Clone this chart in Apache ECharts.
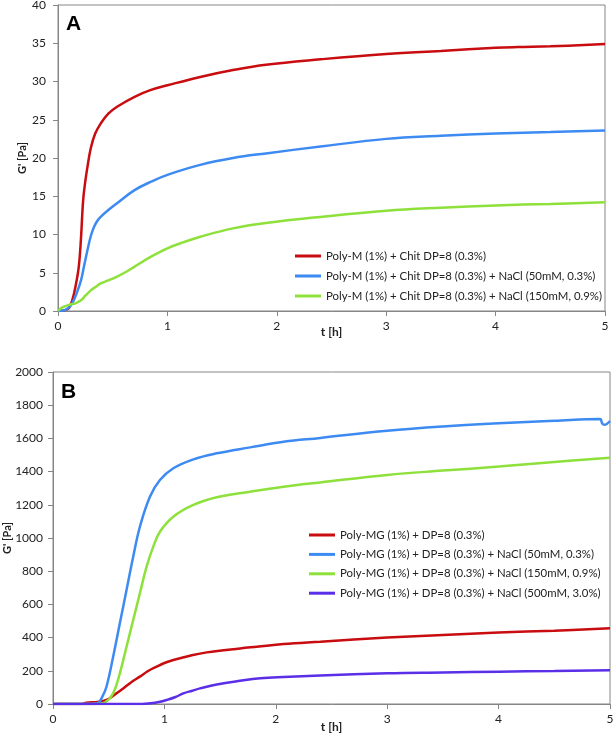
<!DOCTYPE html>
<html>
<head>
<meta charset="utf-8">
<script src="https://cdn.jsdelivr.net/npm/echarts@6/dist/echarts.min.js"></script>
<style>html,body{margin:0;padding:0;background:#fff}#c{width:614px;height:734px}</style>
</head>
<body>
<div id="c"></div>
<script>
// ---------- Panel A data ----------
const namesA = [
  'Poly-M (1%) + Chit DP=8 (0.3%)',
  'Poly-M (1%) + Chit DP=8 (0.3%) + NaCl (50mM, 0.3%)',
  'Poly-M (1%) + Chit DP=8 (0.3%) + NaCl (150mM, 0.9%)'
];
const tA_red = [0, 0.06, 0.1, 0.13, 0.16, 0.19, 0.21, 0.23, 0.25, 0.27, 0.3, 0.34, 0.39, 0.46, 0.54, 0.7, 0.85, 1.0, 1.3, 1.6, 1.9, 2.4, 3.0, 3.5, 4.0, 4.2, 4.5, 5.0];
const vA_red = [0, 0.1, 0.4, 1.4, 3.2, 5.8, 9.5, 14.5, 17.0, 18.9, 21.3, 23.2, 24.5, 25.8, 26.7, 28.0, 28.9, 29.5, 30.6, 31.5, 32.2, 32.9, 33.6, 34.0, 34.4, 34.5, 34.6, 34.9];
const tA_blue = [0, 0.06, 0.1, 0.13, 0.17, 0.21, 0.24, 0.27, 0.3, 0.33, 0.36, 0.39, 0.46, 0.54, 0.7, 0.85, 1.0, 1.3, 1.6, 1.9, 2.4, 3.0, 3.5, 4.0, 4.5, 5.0];
const vA_blue = [0, 0.1, 0.5, 1.0, 2.3, 4.0, 6.0, 8.0, 9.8, 11.0, 11.8, 12.3, 13.2, 14.1, 15.8, 16.9, 17.8, 19.1, 20.0, 20.6, 21.5, 22.5, 22.9, 23.2, 23.4, 23.6];
const tA_green = [0, 0.03, 0.06, 0.1, 0.16, 0.21, 0.25, 0.3, 0.35, 0.39, 0.46, 0.54, 0.62, 0.7, 0.85, 1.0, 1.15, 1.3, 1.6, 1.9, 2.4, 3.0, 3.5, 4.0, 4.5, 5.0];
const vA_green = [0, 0.4, 0.6, 0.8, 1.0, 1.4, 2.0, 2.7, 3.2, 3.6, 4.0, 4.5, 5.1, 5.8, 7.1, 8.2, 9.0, 9.7, 10.8, 11.5, 12.3, 13.1, 13.5, 13.8, 14.0, 14.2];

// ---------- Panel B data ----------
const namesB = [
  'Poly-MG (1%) + DP=8 (0.3%)',
  'Poly-MG (1%) + DP=8 (0.3%) + NaCl (50mM, 0.3%)',
  'Poly-MG (1%) + DP=8 (0.3%) + NaCl (150mM, 0.9%)',
  'Poly-MG (1%) + DP=8 (0.3%) + NaCl (500mM, 3.0%)'
];
const tB_red = [0, 0.25, 0.3, 0.4, 0.48, 0.55, 0.63, 0.7, 0.78, 0.85, 0.93, 1.0, 1.08, 1.23, 1.38, 1.68, 1.83, 2.07, 2.4, 3.0, 3.5, 4.0, 4.5, 5.0];
const vB_red = [0, 0, 8, 12, 24, 55, 94, 130, 165, 197, 225, 247, 265, 291, 311, 335, 345, 361, 375, 400, 416, 430, 442, 456];
const tB_blue = [0, 0.3, 0.4, 0.44, 0.48, 0.54, 0.6, 0.66, 0.72, 0.78, 0.87, 0.96, 1.08, 1.26, 1.47, 1.77, 2.07, 2.4, 3.0, 3.5, 4.0, 4.5, 4.91, 4.93, 4.95, 5.0];
const vB_blue = [0, 0, 5, 40, 104, 285, 486, 687, 887, 1068, 1249, 1349, 1420, 1474, 1510, 1546, 1580, 1603, 1646, 1672, 1691, 1706, 1717, 1690, 1682, 1705];
const tB_green = [0, 0.4, 0.47, 0.54, 0.6, 0.66, 0.72, 0.78, 0.84, 0.9, 0.96, 1.08, 1.26, 1.47, 1.77, 2.07, 2.4, 3.0, 3.5, 4.0, 4.5, 5.0];
const vB_green = [0, 0, 10, 64, 185, 345, 506, 667, 827, 948, 1038, 1128, 1199, 1245, 1279, 1309, 1335, 1380, 1406, 1430, 1458, 1484];
const tB_purple = [0, 0.8, 0.87, 0.95, 1.02, 1.1, 1.17, 1.25, 1.32, 1.47, 1.68, 1.86, 2.07, 2.4, 3.0, 3.5, 4.0, 4.5, 5.0];
const vB_purple = [0, 0, 4, 12, 24, 42, 64, 80, 94, 118, 140, 155, 163, 172, 185, 190, 195, 199, 203];

// ---------- Axis ticks ----------
const xTicks = [0, 1, 2, 3, 4, 5];
const yTicksA = [0, 5, 10, 15, 20, 25, 30, 35, 40];
const yTicksB = [0, 200, 400, 600, 800, 1000, 1200, 1400, 1600, 1800, 2000];

const C_RED = '#C80C10', C_BLUE = '#3D8BF2', C_GREEN = '#8EE03B', C_PURPLE = '#5B2EE8';
const FONT = 'Lato';
const zip = (t, v) => t.map((x, i) => [x, v[i]]);

function xAxis(gi, gap) {
  return {
    type: 'value', gridIndex: gi, min: xTicks[0], max: xTicks[xTicks.length - 1], interval: 1,
    name: 't [h]', nameLocation: 'middle', nameGap: gap, nameMoveOverlap: false,
    nameTextStyle: { fontFamily: FONT, fontWeight: 'bold', fontSize: 12, color: '#222' },
    axisLine: { show: true, lineStyle: { color: '#868686', width: 1 } },
    axisTick: { show: true, inside: false, length: 5, lineStyle: { color: '#868686' } },
    axisLabel: { fontFamily: FONT, fontSize: 12, color: '#222', margin: 9, formatter: v => String(v) },
    splitLine: { show: false }
  };
}
function yAxis(gi, ticks, gap, margin) {
  return {
    type: 'value', gridIndex: gi, min: ticks[0], max: ticks[ticks.length - 1], interval: ticks[1] - ticks[0],
    name: "G' [Pa]", nameLocation: 'middle', nameGap: gap, nameRotate: 90, nameMoveOverlap: false,
    nameTextStyle: { fontFamily: FONT, fontWeight: 'bold', fontSize: 11, color: '#222' },
    axisLine: { show: true, lineStyle: { color: '#868686', width: 1 } },
    axisTick: { show: true, inside: false, length: 5, lineStyle: { color: '#868686' } },
    axisLabel: { fontFamily: FONT, fontSize: 12, color: '#222', margin: margin, formatter: v => String(v) },
    splitLine: { show: false }
  };
}
function line(name, data, color, xi) {
  return {
    name, type: 'line', xAxisIndex: xi, yAxisIndex: xi, data,
    showSymbol: false, symbol: 'none', smooth: 0.4,
    lineStyle: { color, width: 2.5 }, itemStyle: { color }, z: 3
  };
}

const chart = echarts.init(document.getElementById('c'), null, { renderer: 'canvas' });
chart.setOption({
  backgroundColor: '#ffffff',
  animation: false,
  grid: [
    { left: 58, top: 5, right: 9, bottom: 423, show: true, borderColor: '#868686', borderWidth: 1, backgroundColor: 'transparent', containLabel: false, outerBoundsMode: 'none' },
    { left: 53, top: 372, right: 4, bottom: 30, show: true, borderColor: '#868686', borderWidth: 1, backgroundColor: 'transparent', containLabel: false, outerBoundsMode: 'none' }
  ],
  xAxis: [xAxis(0, 15), xAxis(1, 17)],
  yAxis: [yAxis(0, yTicksA, 30, 12), yAxis(1, yTicksB, 40, 10)],
  legend: [
    {
      data: namesA, orient: 'vertical', left: 290, top: 244,
      icon: 'rect', itemWidth: 26, itemHeight: 3, itemGap: 6,
      textStyle: { fontFamily: FONT, fontSize: 11.4, color: '#222', lineHeight: 14 }
    },
    {
      data: namesB, orient: 'vertical', left: 304, top: 523,
      icon: 'rect', itemWidth: 26, itemHeight: 3, itemGap: 5.4,
      textStyle: { fontFamily: FONT, fontSize: 11.4, color: '#222', lineHeight: 14 }
    }
  ],
  graphic: [
    { type: 'text', left: 66, top: 14, style: { text: 'A', font: 'bold 21px "Liberation Sans"', fill: '#000' } },
    { type: 'text', left: 61, top: 382, style: { text: 'B', font: 'bold 21px "Liberation Sans"', fill: '#000' } }
  ],
  series: [
    line(namesA[0], zip(tA_red, vA_red), C_RED, 0),
    line(namesA[1], zip(tA_blue, vA_blue), C_BLUE, 0),
    line(namesA[2], zip(tA_green, vA_green), C_GREEN, 0),
    line(namesB[0], zip(tB_red, vB_red), C_RED, 1),
    line(namesB[1], zip(tB_blue, vB_blue), C_BLUE, 1),
    line(namesB[2], zip(tB_green, vB_green), C_GREEN, 1),
    line(namesB[3], zip(tB_purple, vB_purple), C_PURPLE, 1)
  ]
});
</script>
</body>
</html>
